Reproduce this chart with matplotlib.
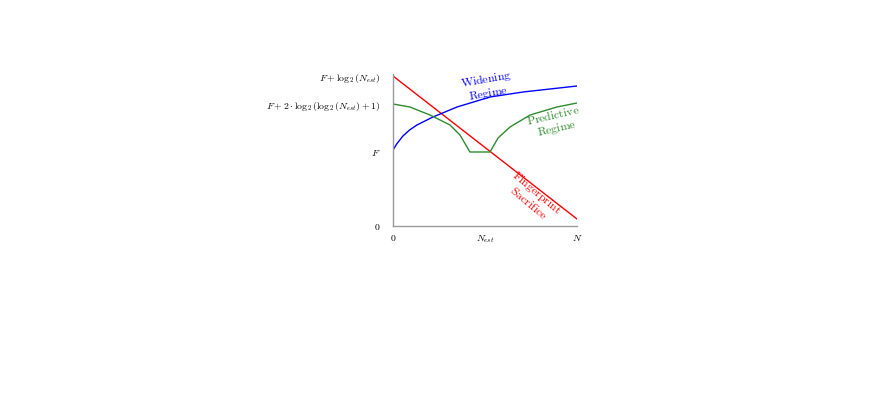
import matplotlib
matplotlib.use("Agg")
import matplotlib.pyplot as plt

plt.rcParams['font.family'] = ['Liberation Serif', 'DejaVu Serif']
plt.rcParams['mathtext.fontset'] = 'cm'

# values (x: 0..N=100, y: arbitrary height units)
red_x = [0, 100]
red_y = [150, 7]

blue_x = [0, 2, 5.4, 9, 13, 21.7, 34.8, 52.7, 70.7, 100]
blue_y = [76, 82, 90, 96, 101, 109, 119, 129, 134, 140]

green_x = [0, 9.2, 20.1, 31, 36.4, 41.8, 52.7, 57.1, 63.6, 74.5, 89.1, 100]
green_y = [122, 119, 111, 101, 91, 74, 74, 88, 99, 111, 119, 123]

xtick_pos = [0, 50, 100]
xtick_lab = ['$0$', '$N_{est}$', '$N$']
ytick_pos = [0, 74, 122, 150]
ytick_lab = ['$0$', '$F$', r'$F + 2\cdot\log_2(\log_2(N_{est})+1)$',
             r'$F + \log_2(N_{est})$']

fig = plt.figure(figsize=(8.72, 4.15), dpi=100)
ax = fig.add_axes([393/872, 1-226/415, 184/872, 152/415])

ax.plot(red_x, red_y, color='red', lw=1.0)
ax.plot(blue_x, blue_y, color='blue', lw=1.0)
ax.plot(green_x, green_y, color='#2e8b2e', lw=1.0)

ax.set_xlim(0, 100)
ax.set_ylim(0, 152)
ax.set_xticks(xtick_pos)
ax.set_xticklabels(xtick_lab, fontsize=7)
ax.set_yticks(ytick_pos)
ax.set_yticklabels(ytick_lab, fontsize=7)
ax.tick_params(length=0)
ax.tick_params(axis='y', pad=9)
ax.tick_params(axis='x', pad=5)

for s in ['top', 'right']:
    ax.spines[s].set_visible(False)
for s in ['left', 'bottom']:
    ax.spines[s].set_color('#999999')
    ax.spines[s].set_linewidth(1.0)

ax.text(51, 140, '$\\mathrm{Widening}$\n$\\mathrm{Regime}$', color='blue', fontsize=8.5,
        ha='center', va='center', rotation=10, linespacing=1.0)
ax.text(88, 104, '$\\mathrm{Predictive}$\n$\\mathrm{Regime}$', color='#2e8b2e', fontsize=8.5,
        ha='center', va='center', rotation=13, linespacing=1.0)
ax.text(76, 28, '$\\mathrm{Fingerprint}$\n$\\mathrm{Sacrifice}$', color='red', fontsize=8.5,
        ha='center', va='center', rotation=-40, linespacing=1.0)

fig.savefig('out.png', dpi=100)
